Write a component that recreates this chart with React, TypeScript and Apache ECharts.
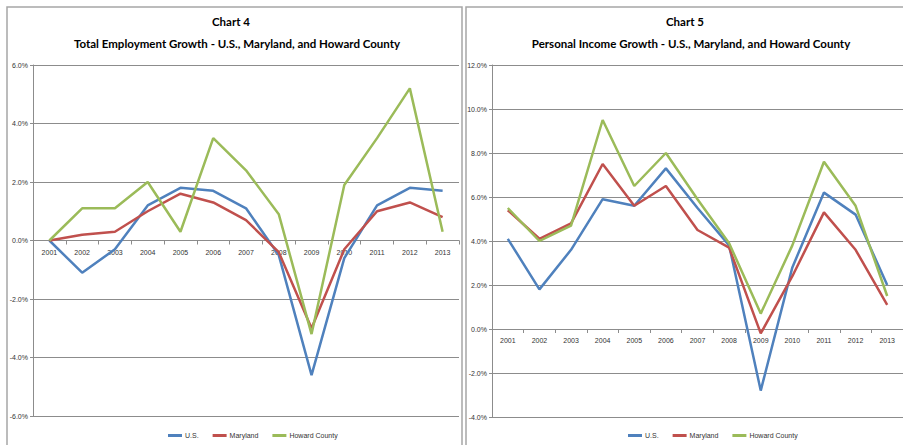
import React, { useEffect, useRef } from "react";
import * as echarts from "echarts";

const years = ["2001","2002","2003","2004","2005","2006","2007","2008","2009","2010","2011","2012","2013"];

const empUS = [0, -1.1, -0.3, 1.2, 1.8, 1.7, 1.1, -0.5, -4.6, -0.6, 1.2, 1.8, 1.7];
const empMD = [0, 0.2, 0.3, 1.0, 1.6, 1.3, 0.7, -0.4, -3.0, -0.3, 1.0, 1.3, 0.8];
const empHC = [0, 1.1, 1.1, 2.0, 0.3, 3.5, 2.4, 0.9, -3.2, 1.9, 3.5, 5.2, 0.3];

const incUS = [4.1, 1.8, 3.6, 5.9, 5.6, 7.3, 5.5, 3.8, -2.8, 2.8, 6.2, 5.2, 2.0];
const incMD = [5.4, 4.1, 4.8, 7.5, 5.6, 6.5, 4.5, 3.7, -0.2, 2.4, 5.3, 3.6, 1.1];
const incHC = [5.5, 4.0, 4.7, 9.5, 6.5, 8.0, 5.9, 3.9, 0.7, 3.8, 7.6, 5.6, 1.5];

const seriesNames = ["U.S.", "Maryland", "Howard County"];
const colors = ["#4F81BD", "#C0504D", "#9BBB59"];

const chart4Title = "Chart 4";
const chart4Sub = "Total Employment Growth - U.S., Maryland, and Howard County";
const chart5Title = "Chart 5";
const chart5Sub = "Personal Income Growth - U.S., Maryland, and Howard County";

const emp = { min: -6, max: 6 };
const inc = { min: -4, max: 12 };

export default function App() {
  const ref = useRef<HTMLDivElement>(null);
  useEffect(() => {
    if (!ref.current) return;
    const chart = echarts.init(ref.current, null, { renderer: "svg" });
    const grey = "#8c8c8c";
    const grids = [
      { left: 33, top: 65, width: 426, height: 351 },
      { left: 492, top: 65, width: 416, height: 352 },
    ];
    const ranges = [emp, inc];
    // distance from grid bottom to the zero line, derived from the axis range
    const zeroOffset = (i: number) =>
      -(grids[i].height * (0 - ranges[i].min)) / (ranges[i].max - ranges[i].min);
    const xAxisBase = (gridIndex: number) => ({
      type: "category",
      gridIndex,
      data: years,
      boundaryGap: true,
      position: "bottom",
      offset: zeroOffset(gridIndex),
      axisLine: { show: true, onZero: false, lineStyle: { color: grey, width: 1 } },
      axisTick: { show: true, length: 4, lineStyle: { color: grey } },
      axisLabel: { fontSize: 7, color: "#333", margin: 8, fontFamily: "Liberation Sans", interval: 0 },
      splitLine: { show: false },
    });
    const yAxisBase = (gridIndex: number) => ({
      type: "value",
      gridIndex,
      min: ranges[gridIndex].min,
      max: ranges[gridIndex].max,
      interval: 2,
      axisLine: { show: true, onZero: false, lineStyle: { color: grey, width: 1 } },
      axisTick: { show: true, length: 3, lineStyle: { color: grey } },
      axisLabel: {
        fontSize: 7,
        color: "#333",
        margin: 5,
        fontFamily: "Liberation Sans",
        formatter: (v: number) => v.toFixed(1) + "%",
      },
      splitLine: { show: true, lineStyle: { color: grey, width: 1 } },
    });
    const mkSeries = (data: number[][], idx: number) =>
      data.map((d, i) => ({
        name: seriesNames[i],
        type: "line",
        xAxisIndex: idx,
        yAxisIndex: idx,
        data: d,
        symbol: "none",
        lineStyle: { width: 2.5, color: colors[i] },
        itemStyle: { color: colors[i] },
      }));
    const titleFont = "bold 11.5px Lato";
    const legendBase = (left: number) => ({
      left,
      top: 427,
      itemWidth: 14,
      itemHeight: 3,
      itemGap: 14,
      icon: "rect",
      textStyle: { fontSize: 7, color: "#333", fontFamily: "Liberation Sans", padding: [0, 0, 0, -2] },
      data: seriesNames,
    });
    chart.setOption({
      animation: false,
      backgroundColor: "#ffffff",
      grid: grids,
      xAxis: [xAxisBase(0), xAxisBase(1)],
      yAxis: [yAxisBase(0), yAxisBase(1)],
      legend: [legendBase(163), legendBase(623)],
      series: [
        ...mkSeries([empUS, empMD, empHC], 0),
        ...mkSeries([incUS, incMD, incHC], 1),
      ],
      graphic: [
        { type: "rect", shape: { x: 7, y: 7, width: 455, height: 450 }, style: { fill: "none", stroke: "#a6a6a6", lineWidth: 1.5 }, silent: true },
        { type: "rect", shape: { x: 466, y: 7, width: 450, height: 450 }, style: { fill: "none", stroke: "#a6a6a6", lineWidth: 1.5 }, silent: true },
        { type: "text", x: 231, y: 21, style: { text: chart4Title, font: titleFont, fill: "#000", textAlign: "center", textVerticalAlign: "middle" } },
        { type: "text", x: 237, y: 43, style: { text: chart4Sub, font: titleFont, fill: "#000", textAlign: "center", textVerticalAlign: "middle" } },
        { type: "text", x: 685, y: 21, style: { text: chart5Title, font: titleFont, fill: "#000", textAlign: "center", textVerticalAlign: "middle" } },
        { type: "text", x: 691, y: 43, style: { text: chart5Sub, font: titleFont, fill: "#000", textAlign: "center", textVerticalAlign: "middle" } },
      ],
    });
    return () => chart.dispose();
  }, []);
  return (
    <div
      ref={ref}
      style={{ position: "fixed", left: 0, top: 0, width: 903, height: 445, background: "#fff" }}
    />
  );
}
